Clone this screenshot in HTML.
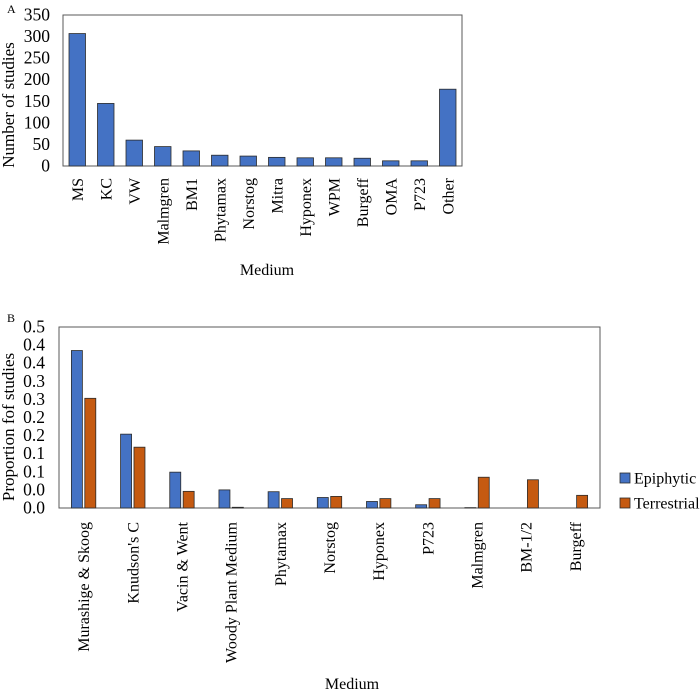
<!DOCTYPE html>
<html><head><meta charset="utf-8"><style>
html,body{margin:0;padding:0;background:#fff;}
svg{display:block;font-family:"Liberation Serif",serif;}
svg text{font-family:"Liberation Serif",serif;}
</style></head><body>
<svg id="c" width="700" height="690" xmlns="http://www.w3.org/2000/svg" font-family="Liberation Serif, serif"></svg>
<script>
const catsA = ["MS","KC","VW","Malmgren","BM1","Phytamax","Norstog","Mitra","Hyponex","WPM","Burgeff","OMA","P723","Other"];
const valsA = [307,145,60,45,35,25,23,20,19,19,18,12,12,178];
const ticksA = [0,50,100,150,200,250,300,350];

const catsB = ["Murashige & Skoog","Knudson's C","Vacin & Went","Woody Plant Medium","Phytamax","Norstog","Hyponex","P723","Malmgren","BM-1/2","Burgeff"];
const epiB = [0.435,0.204,0.099,0.05,0.045,0.029,0.018,0.009,0.001,0,0];
const terB = [0.303,0.168,0.046,0.002,0.026,0.032,0.026,0.026,0.085,0.078,0.035];
const ticksB = [0,0.05,0.1,0.15,0.2,0.25,0.3,0.35,0.4,0.45,0.5];
const tickLabelsB = ["0.0","0.0","0.1","0.1","0.2","0.2","0.3","0.3","0.4","0.4","0.5"];

const svg = document.getElementById('c');
const NS = "http://www.w3.org/2000/svg";
const SERIF = "Liberation Serif, serif";
function mk(tag, attrs, parent){
  const e = document.createElementNS(NS, tag);
  for (const k in attrs) e.setAttribute(k, attrs[k]);
  (parent||svg).appendChild(e);
  return e;
}
function txt(s, attrs){
  if (!attrs['font-family']) attrs['font-family'] = SERIF;
  const t = mk('text', attrs); t.textContent = s; return t;
}

// ---------- Chart A ----------
const A = {l:63, r:462, t:15, b:166, max:350};
const yA = v => A.b - v/A.max*(A.b-A.t);
const bandA = (A.r-A.l)/catsA.length;
const xA = i => A.l + bandA*(i+0.5);
let e;
e = txt("A", {x:7, y:13, 'font-family':'Liberation Sans, sans-serif', 'font-size':12, fill:'#000'});


e = mk('rect', {x:A.l, y:A.t, width:A.r-A.l, height:A.b-A.t, fill:'none', stroke:'#595959', 'stroke-width':1});


ticksA.forEach(v=>{
  const t = txt(String(v), {x:50, y:yA(v)+5.5, 'text-anchor':'end', 'font-size':17.5, fill:'#000'});
  
  
});
catsA.forEach((c,i)=>{
  const w = 16.5;
  const r = mk('rect', {x:xA(i)-w/2, y:yA(valsA[i]), width:w, height:A.b-yA(valsA[i]), fill:'#4472C4', stroke:'#2b2b2b', 'stroke-width':0.8});
  
  
  const t = txt(c, {x:0, y:0, 'text-anchor':'end', 'font-size':16, fill:'#000', transform:`translate(${xA(i)+5.5},178) rotate(-90)`});
  
  
});
e = txt("Medium", {x:267, y:275, 'text-anchor':'middle', 'font-size':16, fill:'#000'});


e = txt("Number of studies", {x:0, y:0, 'text-anchor':'middle', 'font-size':17, fill:'#000', transform:'translate(14,105) rotate(-90)'});



// ---------- Chart B ----------
const B = {l:59, r:600, t:327, b:508, max:0.5};
const yB = v => B.b - v/B.max*(B.b-B.t);
const bandB = (B.r-B.l)/catsB.length;
const xB = i => B.l + bandB*(i+0.5);
e = txt("B", {x:7, y:322, 'font-family':'Liberation Sans, sans-serif', 'font-size':12, fill:'#000'});


e = mk('rect', {x:B.l, y:B.t, width:B.r-B.l, height:B.b-B.t, fill:'none', stroke:'#595959', 'stroke-width':1});


ticksB.forEach((v,i)=>{
  const t = txt(tickLabelsB[i], {x:45, y:yB(v)+5.5, 'text-anchor':'end', 'font-size':17.5, fill:'#000'});
  
  
});
catsB.forEach((c,i)=>{
  const w = 11;
  if (epiB[i] > 0) {
    const r = mk('rect', {x:xB(i)-w-1.2, y:yB(epiB[i]), width:w, height:B.b-yB(epiB[i]), fill:'#4472C4', stroke:'#2b2b2b', 'stroke-width':0.8});
    
    
  }
  if (terB[i] > 0) {
    const r = mk('rect', {x:xB(i)+1.2, y:yB(terB[i]), width:w, height:B.b-yB(terB[i]), fill:'#C55A11', stroke:'#2b2b2b', 'stroke-width':0.8});
    
    
  }
  const t = txt(c, {x:0, y:0, 'text-anchor':'end', 'font-size':16, fill:'#000', transform:`translate(${xB(i)+5.5},522) rotate(-90)`});
  
  
});
e = txt("Medium", {x:352, y:689, 'text-anchor':'middle', 'font-size':16, fill:'#000'});


e = txt("Proportion fof studies", {x:0, y:0, 'text-anchor':'middle', 'font-size':17, fill:'#000', transform:'translate(14,427) rotate(-90)'});



// legend
const leg = [["Epiphytic","#4472C4",478],["Terrestrial","#C55A11",503]];
leg.forEach(l=>{
  const r = mk('rect', {x:620, y:l[2]-5, width:10, height:10, fill:l[1], stroke:'#2b2b2b', 'stroke-width':0.8});
  
  
  const t = txt(l[0], {x:634, y:l[2]+5.5, 'font-size':16, fill:'#000'});
  
  
});
</script>
</body></html>
